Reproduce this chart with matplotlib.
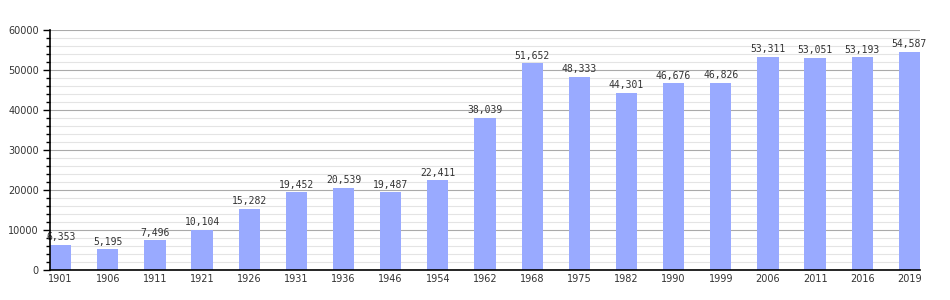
"""Population history bar chart."""

import matplotlib

matplotlib.use("Agg")
import matplotlib.pyplot as plt
from matplotlib.ticker import FixedLocator, MultipleLocator

years = ["1901", "1906", "1911", "1921", "1926", "1931", "1936", "1946", "1954", "1962",
         "1968", "1975", "1982", "1990", "1999", "2006", "2011", "2016", "2019"]
population = [6353, 5195, 7496, 10104, 15282, 19452, 20539, 19487, 22411, 38039,
              51652, 48333, 44301, 46676, 46826, 53311, 53051, 53193, 54587]
y_ticks = [0, 10000, 20000, 30000, 40000, 50000, 60000]

BAR_COLOR = "#99aaff"
TEXT_COLOR = "#333333"
WIDTH = 0.45

fig = plt.figure(figsize=(9.5, 3.0), dpi=100)
ax = fig.add_axes([50 / 950, 30 / 300, 870 / 950, 240 / 300])

positions = list(range(len(years)))
ax.bar(positions, population, width=WIDTH, align="edge", color=BAR_COLOR, zorder=3)

for pos, value in zip(positions, population):
    ax.text(pos + WIDTH / 2, value + 600, f"{value:,}", ha="center", va="bottom",
            fontsize=7, color=TEXT_COLOR, family="DejaVu Sans Mono", zorder=4)

ax.set_xlim(0, len(years) - 1 + WIDTH)
ax.set_ylim(0, 60000)
ax.set_xticks([p + WIDTH / 2 for p in positions])
ax.set_xticklabels(years, fontsize=7, color=TEXT_COLOR)
ax.tick_params(axis="x", length=0, pad=3)

ax.yaxis.set_major_locator(FixedLocator(y_ticks))
ax.yaxis.set_minor_locator(MultipleLocator(2000))
ax.set_yticklabels([str(t) for t in y_ticks], fontsize=7, color=TEXT_COLOR)
ax.tick_params(axis="y", which="major", length=5, width=1, color="black", pad=3)
ax.tick_params(axis="y", which="minor", length=3, width=1, color="black")

ax.grid(axis="y", which="minor", color="#e4e4e4", linewidth=0.8, zorder=1)
ax.grid(axis="y", which="major", color="#aaaaaa", linewidth=0.8, zorder=2)

for side in ("top", "right"):
    ax.spines[side].set_visible(False)
ax.spines["left"].set_linewidth(1.2)
ax.spines["bottom"].set_linewidth(1.2)
ax.spines["left"].set_zorder(5)
ax.spines["bottom"].set_zorder(5)

fig.savefig("out.png", dpi=100)
plt.close(fig)
